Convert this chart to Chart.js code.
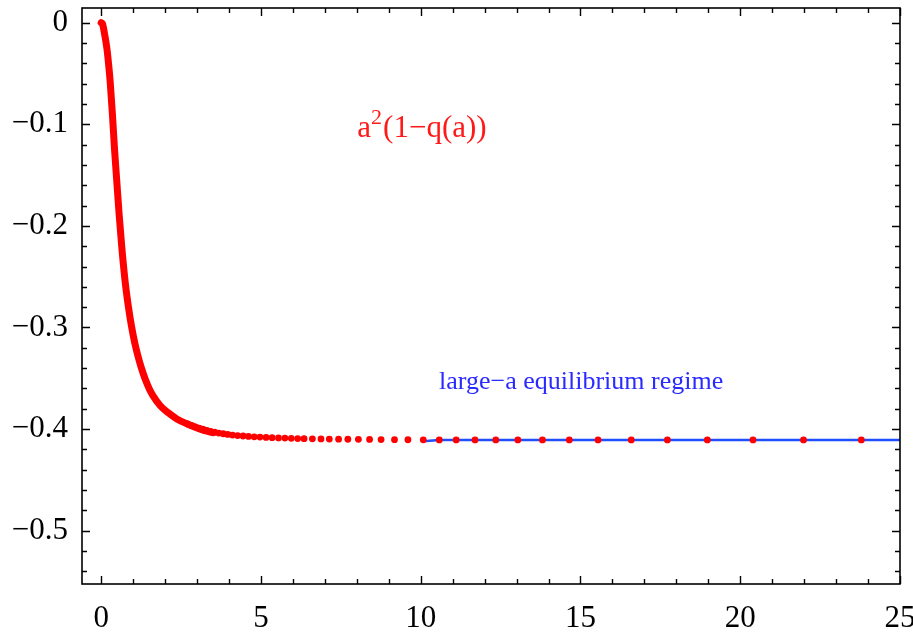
<!DOCTYPE html>
<html>
<head>
<meta charset="utf-8">
<script src="https://cdn.jsdelivr.net/npm/chart.js@4/dist/chart.umd.min.js"></script>
<style>
  html, body { margin: 0; padding: 0; background: #fff; }
  #wrap { width: 913px; height: 633px; position: relative; }
</style>
</head>
<body>
<div id="wrap"><canvas id="c" width="913" height="633"></canvas></div>
<script>
// ---- data ----
// dense part of the red curve (drawn as a thick red trace)
const curveA = [0, 0.04, 0.1, 0.178, 0.23, 0.282, 0.354, 0.417, 0.491, 0.563, 0.648, 0.751, 0.85, 0.95, 1.05, 1.15, 1.25, 1.38, 1.5, 1.62, 1.85, 2.1, 2.37, 2.7, 3.1, 3.5];
const curveV = [0, -0.001, -0.010, -0.025, -0.040, -0.058, -0.091, -0.124, -0.157, -0.189, -0.222, -0.255, -0.279, -0.299, -0.315, -0.328, -0.339, -0.351, -0.360, -0.367, -0.377, -0.384, -0.390, -0.395, -0.400, -0.4035];
// individually visible red dots
const dotA = [2.7, 2.82, 2.94, 3.06, 3.18, 3.3, 3.42, 3.55, 3.68, 3.82, 3.96, 4.11, 4.27, 4.44, 4.61, 4.79, 4.97, 5.16, 5.35, 5.55, 5.75, 5.95, 6.15, 6.35, 6.61, 6.88, 7.14, 7.43, 7.72, 8.05, 8.40, 8.76, 9.18, 9.60, 10.08, 10.58, 11.11, 11.70, 12.35, 13.04, 13.81, 14.65, 15.55, 16.59, 17.72, 18.97, 20.40, 21.98, 23.79];
const dotV = [-0.3950, -0.3965, -0.3978, -0.3990, -0.4001, -0.4012, -0.4022, -0.4031, -0.4039, -0.4046, -0.4053, -0.4059, -0.4064, -0.4068, -0.4072, -0.4076, -0.4079, -0.4082, -0.4085, -0.4087, -0.4089, -0.4091, -0.4093, -0.4094, -0.4096, -0.4097, -0.4098, -0.4099, -0.4100, -0.4101, -0.4102, -0.4103, -0.4104, -0.4105, -0.4106, -0.4107, -0.4107, -0.4107, -0.4107, -0.4107, -0.4107, -0.4107, -0.4107, -0.4107, -0.4107, -0.4107, -0.4107, -0.4107, -0.4107];
// blue large-a line
const blueA = [10.08, 10.58, 25];
const blueV = [-0.4120, -0.4107, -0.4107];
// axes
const xTicks = [0, 5, 10, 15, 20, 25];
const xTickLabels = ['0', '5', '10', '15', '20', '25'];
const yTicks = [-0.5, -0.4, -0.3, -0.2, -0.1, 0];
const yTickLabels = ['\u22120.5', '\u22120.4', '\u22120.3', '\u22120.2', '\u22120.1', '0'];
const xRange = [-0.6, 25];
const yRange = [-0.5525, 0.0145];
// annotations
const labelRed = { base: 'a', sup: '2', rest: '(1\u2212q(a))', a: 10.04, v: -0.1122 };
const labelBlue = { text: 'large\u2212a equilibrium regime', a: 15.02, v: -0.3605 };

const pts = (xs, ys) => xs.map((x, i) => ({ x: x, y: ys[i] }));
const SERIF = '"Liberation Serif", "Times New Roman", serif';

const framePlugin = {
  id: 'frame',
  afterDraw(chart) {
    const { ctx, chartArea: ca, scales } = chart;
    const sx = scales.x, sy = scales.y;
    ctx.save();
    ctx.strokeStyle = '#000';
    ctx.lineWidth = 1.6;
    ctx.strokeRect(ca.left, ca.top, ca.right - ca.left, ca.bottom - ca.top);
    ctx.lineWidth = 1.4;
    ctx.beginPath();
    for (let k = 0; k <= 25; k++) {
      const px = Math.round(sx.getPixelForValue(k)) + 0.5;
      const len = xTicks.includes(k) ? 8 : 5;
      ctx.moveTo(px, ca.bottom); ctx.lineTo(px, ca.bottom - len);
      ctx.moveTo(px, ca.top); ctx.lineTo(px, ca.top + len);
    }
    for (let k = -27; k <= 0; k++) {
      const v = k * 0.02;
      const py = Math.round(sy.getPixelForValue(v)) + 0.5;
      const len = (k % 5 === 0) ? 8 : 5;
      ctx.moveTo(ca.left, py); ctx.lineTo(ca.left + len, py);
      ctx.moveTo(ca.right, py); ctx.lineTo(ca.right - len, py);
    }
    ctx.stroke();

    // red annotation a^2(1-q(a))
    ctx.textBaseline = 'alphabetic';
    ctx.textAlign = 'left';
    ctx.fillStyle = '#ff1a1a';
    const fMain = '31px ' + SERIF, fSup = '22px ' + SERIF;
    ctx.font = fSup;
    const wSup = ctx.measureText(labelRed.sup).width;
    ctx.font = fMain;
    const wA = ctx.measureText(labelRed.base).width;
    const wB = ctx.measureText(labelRed.rest).width;
    const total = wA + wSup + 1 + wB;
    const x0 = sx.getPixelForValue(labelRed.a) - total / 2;
    const y0 = sy.getPixelForValue(labelRed.v);
    ctx.fillText(labelRed.base, x0, y0);
    ctx.fillText(labelRed.rest, x0 + wA + wSup + 1, y0);
    ctx.font = fSup;
    ctx.fillText(labelRed.sup, x0 + wA, y0 - 13);
    // blue annotation
    ctx.fillStyle = '#2a2aff';
    ctx.font = '26px ' + SERIF;
    ctx.textAlign = 'center';
    ctx.fillText(labelBlue.text, sx.getPixelForValue(labelBlue.a), sy.getPixelForValue(labelBlue.v));
    ctx.restore();
  }
};

new Chart(document.getElementById('c'), {
  type: 'scatter',
  data: {
    datasets: [
      {
        label: 'dots',
        data: pts(dotA, dotV),
        showLine: false,
        pointRadius: 3.4,
        pointBackgroundColor: '#ff0000',
        pointBorderWidth: 0,
        pointBorderColor: '#ff0000'
      },
      {
        label: 'large-a',
        data: pts(blueA, blueV),
        showLine: true,
        borderColor: '#1f4dff',
        borderWidth: 2.6,
        pointRadius: 0,
        tension: 0
      },
      {
        label: 'curve',
        data: pts(curveA, curveV),
        showLine: true,
        borderColor: '#ff0000',
        borderWidth: 7,
        borderCapStyle: 'round',
        borderJoinStyle: 'round',
        pointRadius: 0,
        cubicInterpolationMode: 'monotone'
      }
    ]
  },
  options: {
    responsive: false,
    animation: false,
    events: [],
    layout: { padding: { top: 8, right: 13, left: 0, bottom: 0 } },
    plugins: { legend: { display: false }, tooltip: { enabled: false } },
    scales: {
      x: {
        type: 'linear',
        min: xRange[0], max: xRange[1],
        grid: { display: false, drawTicks: false },
        border: { display: false },
        afterBuildTicks: s => { s.ticks = xTicks.map(v => ({ value: v })); },
        afterFit: s => { s.height = 49; s.paddingLeft = 0; s.paddingRight = 0; },
        ticks: {
          autoSkip: false, maxRotation: 0, padding: 16,
          color: '#000',
          font: { family: SERIF, size: 31 },
          callback: (v, i) => xTickLabels[i]
        }
      },
      y: {
        type: 'linear',
        min: yRange[0], max: yRange[1],
        grid: { display: false, drawTicks: false },
        border: { display: false },
        afterBuildTicks: s => { s.ticks = yTicks.map(v => ({ value: v })); },
        afterFit: s => { s.width = 82; s.paddingTop = 0; s.paddingBottom = 0; },
        ticks: {
          autoSkip: false, padding: 14,
          color: '#000',
          font: { family: SERIF, size: 31 },
          callback: (v, i) => yTickLabels[i]
        }
      }
    }
  },
  plugins: [framePlugin]
});
</script>
</body>
</html>
